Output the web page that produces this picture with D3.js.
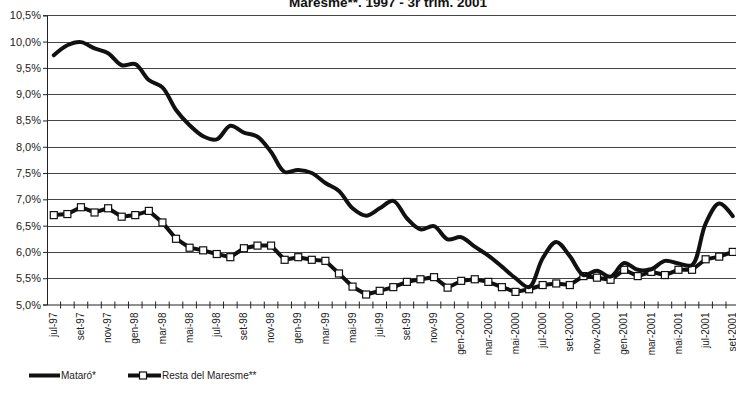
<!DOCTYPE html>
<html>
<head>
<meta charset="utf-8">
<script src="https://cdn.jsdelivr.net/npm/d3@7/dist/d3.min.js"></script>
<style>
  html, body { margin: 0; padding: 0; background: #fff; }
  svg { display: block; font-family: "Liberation Sans", Arial, sans-serif; }
</style>
</head>
<body>
<svg id="chart" width="736" height="405"></svg>
<script>
const titleText = "Maresme**. 1997 - 3r trim. 2001";
const months = ["jul-97","ago-97","set-97","oct-97","nov-97","des-97",
  "gen-98","feb-98","mar-98","abr-98","mai-98","jun-98","jul-98","ago-98","set-98","oct-98","nov-98","des-98",
  "gen-99","feb-99","mar-99","abr-99","mai-99","jun-99","jul-99","ago-99","set-99","oct-99","nov-99","des-99",
  "gen-2000","feb-2000","mar-2000","abr-2000","mai-2000","jun-2000","jul-2000","ago-2000","set-2000","oct-2000","nov-2000","des-2000",
  "gen-2001","feb-2001","mar-2001","abr-2001","mai-2001","jun-2001","jul-2001","ago-2001","set-2001"];
const mataro = [9.74, 9.93, 9.99, 9.87, 9.78, 9.55, 9.57, 9.27, 9.13, 8.70,
  8.41, 8.20, 8.14, 8.40, 8.27, 8.19, 7.90, 7.52, 7.56, 7.50,
  7.31, 7.16, 6.83, 6.69, 6.83, 6.97, 6.64, 6.43, 6.49, 6.24,
  6.28, 6.10, 5.93, 5.72, 5.50, 5.33, 5.88, 6.19, 5.92, 5.56,
  5.64, 5.53, 5.79, 5.66, 5.67, 5.83, 5.78, 5.75, 6.54, 6.92, 6.68];
const resta = [6.70, 6.72, 6.85, 6.75, 6.83, 6.67, 6.70, 6.78, 6.56, 6.25,
  6.08, 6.03, 5.96, 5.90, 6.07, 6.12, 6.12, 5.85, 5.90, 5.85,
  5.83, 5.59, 5.34, 5.19, 5.26, 5.33, 5.43, 5.48, 5.52, 5.32,
  5.45, 5.48, 5.43, 5.33, 5.24, 5.29, 5.37, 5.40, 5.37, 5.54,
  5.51, 5.47, 5.66, 5.54, 5.62, 5.56, 5.66, 5.66, 5.86, 5.91, 6.00];
const yTicks = [5.0, 5.5, 6.0, 6.5, 7.0, 7.5, 8.0, 8.5, 9.0, 9.5, 10.0, 10.5];
const seriesNames = ["Mataró*", "Resta del Maresme**"];

const svg = d3.select("#chart");
const plotLeft = 47, plotTop = 15.3, plotBottom = 304.5, step = 13.58;
const x = d3.scaleBand().domain(months).range([plotLeft, plotLeft + step * months.length]).padding(0);
const y = d3.scaleLinear().domain([5, 10.5]).range([plotBottom, plotTop]);
const fmt = v => d3.format(".1f")(v).replace(".", ",") + "%";

// title (partially cut at top, as in the reference)
svg.append("text").attr("x", 388).attr("y", 7)
  .attr("text-anchor", "middle").attr("font-size", 13.5).attr("font-weight", "bold")
  .attr("fill", "#111").text(titleText);

// gridlines
svg.append("g").selectAll("line").data(yTicks.filter(d => d > 5))
  .join("line")
  .attr("x1", plotLeft).attr("x2", 736)
  .attr("y1", d => Math.round(y(d)) + 0.5).attr("y2", d => Math.round(y(d)) + 0.5)
  .attr("stroke", "#444").attr("stroke-width", 1);

// y axis
const yAxis = d3.axisLeft(y).tickValues(yTicks).tickFormat(fmt).tickSize(4).tickPadding(2);
const gy = svg.append("g").attr("transform", `translate(${plotLeft},0)`).call(yAxis);
gy.select(".domain").attr("stroke", "#222");
gy.selectAll(".tick line").attr("stroke", "#222");
gy.selectAll(".tick text").attr("font-size", 11).attr("fill", "#222")
  .attr("font-family", "Liberation Sans, Arial, sans-serif");

// x axis
const xAxis = d3.axisBottom(x).tickSize(0).tickFormat((d, i) => i % 2 === 0 ? d : "");
const gx = svg.append("g").attr("transform", `translate(0,${plotBottom})`).call(xAxis);
gx.select(".domain").attr("stroke", "#222").attr("d", `M${plotLeft},0.5H736`);
gx.selectAll(".tick text")
  .attr("font-size", 10).attr("fill", "#222")
  .attr("font-family", "Liberation Sans, Arial, sans-serif")
  .attr("transform", "rotate(-90)")
  .attr("text-anchor", "end").attr("dx", "-8").attr("dy", "0.32em").attr("y", 0);
// cross tick marks at category boundaries
svg.append("g").selectAll("line").data(months.slice(1))
  .join("line")
  .attr("x1", d => x(d)).attr("x2", d => x(d))
  .attr("y1", plotBottom - 3).attr("y2", plotBottom + 4)
  .attr("stroke", "#222").attr("stroke-width", 1);

const cx = d => x(d) + x.bandwidth() / 2;

// Resta line
const restaLine = d3.line().x((d, i) => cx(months[i])).y(d => y(d));
svg.append("path").datum(resta).attr("d", restaLine)
  .attr("fill", "none").attr("stroke", "#111").attr("stroke-width", 4);
svg.append("g").selectAll("rect").data(resta).join("rect")
  .attr("x", (d, i) => cx(months[i]) - 3.5).attr("y", d => y(d) - 3.5)
  .attr("width", 7).attr("height", 7)
  .attr("fill", "#fff").attr("stroke", "#111").attr("stroke-width", 1.2);

// Mataró line
const mLine = d3.line().x((d, i) => cx(months[i])).y(d => y(d)).curve(d3.curveCatmullRom.alpha(0.5));
svg.append("path").datum(mataro).attr("d", mLine)
  .attr("fill", "none").attr("stroke", "#111").attr("stroke-width", 4)
  .attr("stroke-linejoin", "round").attr("stroke-linecap", "round");

// legend
const lg = svg.append("g");
lg.append("line").attr("x1", 29).attr("x2", 60).attr("y1", 375.5).attr("y2", 375.5)
  .attr("stroke", "#111").attr("stroke-width", 4);
lg.append("text").attr("x", 61).attr("y", 379).attr("font-size", 10).attr("fill", "#222").text(seriesNames[0]);
lg.append("line").attr("x1", 128).attr("x2", 161).attr("y1", 375.5).attr("y2", 375.5)
  .attr("stroke", "#111").attr("stroke-width", 4);
lg.append("rect").attr("x", 139.5).attr("y", 372).attr("width", 7).attr("height", 7)
  .attr("fill", "#fff").attr("stroke", "#111").attr("stroke-width", 1.2);
lg.append("text").attr("x", 162).attr("y", 379).attr("font-size", 10).attr("fill", "#222").text(seriesNames[1]);
</script>
</body>
</html>
